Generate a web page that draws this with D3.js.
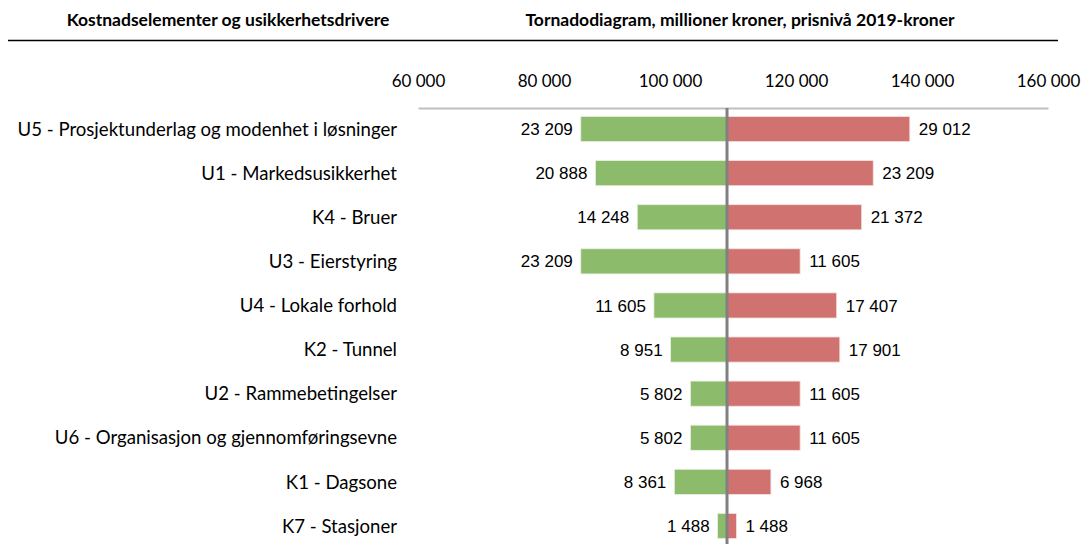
<!DOCTYPE html>
<html><head><meta charset="utf-8">
<script src="https://cdn.jsdelivr.net/npm/d3@7"></script>
<style>
html,body{margin:0;padding:0;background:#fff;}
svg{display:block;}
</style></head>
<body>
<svg id="chart" width="1081" height="544"></svg>
<script>
const categories = [
  "U5 - Prosjektunderlag og modenhet i løsninger",
  "U1 - Markedsusikkerhet",
  "K4 - Bruer",
  "U3 - Eierstyring",
  "U4 - Lokale forhold",
  "K2 - Tunnel",
  "U2 - Rammebetingelser",
  "U6 - Organisasjon og gjennomføringsevne",
  "K1 - Dagsone",
  "K7 - Stasjoner"
];
const lowValues  = [23209, 20888, 14248, 23209, 11605, 8951, 5802, 5802, 8361, 1488];
const highValues = [29012, 23209, 21372, 11605, 17407, 17901, 11605, 11605, 6968, 1488];
const baseValue = 109050;
const tickValues = [60000, 80000, 100000, 120000, 140000, 160000];
const headerLeft = "Kostnadselementer og usikkerhetsdrivere";
const headerRight = "Tornadodiagram, millioner kroner, prisnivå 2019-kroner";

const svg = d3.select("#chart");
const labelFont = "Lato, 'Open Sans', sans-serif";
const numFont = "'Liberation Sans', Arial, sans-serif";

const x = d3.scaleLinear().domain([60000, 160000]).range([418, 1048]);
const y = d3.scaleBand().domain(categories).range([107, 548]).paddingInner(0.43).paddingOuter(0.215);

const fmt = v => d3.format(",")(v).replace(/,/g, " ");

// headers
svg.append("text").attr("x", 228).attr("y", 26).attr("text-anchor", "middle")
  .attr("font-family", labelFont).attr("font-weight", "bold").attr("font-size", 17.5)
  .attr("fill", "#000").text(headerLeft);
svg.append("text").attr("x", 740).attr("y", 26).attr("text-anchor", "middle")
  .attr("font-family", labelFont).attr("font-weight", "bold").attr("font-size", 17.5)
  .attr("fill", "#000").text(headerRight);
svg.append("line").attr("x1", 8).attr("x2", 1058).attr("y1", 40.5).attr("y2", 40.5)
  .attr("stroke", "#000").attr("stroke-width", 1.3);

// top axis
const axis = d3.axisTop(x).tickValues(tickValues).tickSize(0).tickPadding(21).tickFormat(fmt);
const gAxis = svg.append("g").attr("transform", "translate(0,108)").call(axis);
gAxis.select(".domain").attr("stroke", "#bfbfbf").attr("stroke-width", 2);
gAxis.selectAll("text").attr("font-family", labelFont).attr("font-size", 17).attr("fill", "#000");

// bars
const rows = svg.append("g");
categories.forEach((c, i) => {
  const yy = y(c), h = y.bandwidth();
  rows.append("rect").attr("x", x(baseValue - lowValues[i])).attr("y", yy)
    .attr("width", x(baseValue) - x(baseValue - lowValues[i])).attr("height", h)
    .attr("fill", "#8cbb6c").attr("stroke", "#e8f1e0").attr("stroke-width", 0.8);
  rows.append("rect").attr("x", x(baseValue)).attr("y", yy)
    .attr("width", x(baseValue + highValues[i]) - x(baseValue)).attr("height", h)
    .attr("fill", "#d07370").attr("stroke", "#f5e0e0").attr("stroke-width", 0.8);
  rows.append("text").attr("x", x(baseValue - lowValues[i]) - 8).attr("y", yy + h / 2)
    .attr("dy", "0.36em").attr("text-anchor", "end")
    .attr("font-family", numFont).attr("font-size", 17).attr("fill", "#000")
    .text(fmt(lowValues[i]));
  rows.append("text").attr("x", x(baseValue + highValues[i]) + 9).attr("y", yy + h / 2)
    .attr("dy", "0.36em").attr("text-anchor", "start")
    .attr("font-family", numFont).attr("font-size", 17).attr("fill", "#000")
    .text(fmt(highValues[i]));
  rows.append("text").attr("x", 397).attr("y", yy + h / 2)
    .attr("dy", "0.36em").attr("text-anchor", "end")
    .attr("font-family", labelFont).attr("font-size", 18.6).attr("fill", "#000")
    .text(c);
});

// center line
svg.append("line").attr("x1", x(baseValue)).attr("x2", x(baseValue))
  .attr("y1", 108).attr("y2", 544).attr("stroke", "#808080").attr("stroke-width", 3);
</script>
</body></html>
